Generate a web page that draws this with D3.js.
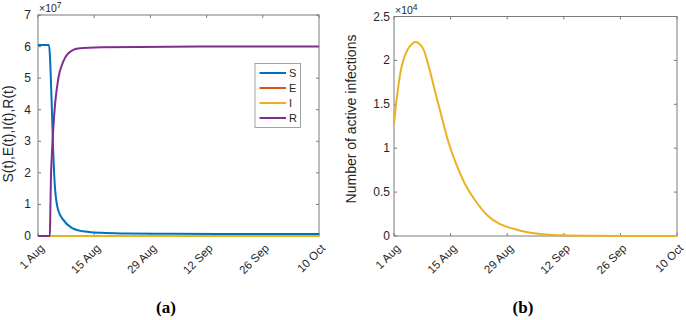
<!DOCTYPE html>
<html>
<head>
<meta charset="utf-8">
<script src="https://cdn.jsdelivr.net/npm/d3@7"></script>
<style>
  body { margin: 0; background: #fff; }
  svg { display: block; }
  text { font-family: "Liberation Sans", Arial, sans-serif; fill: #262626; }
  text.caption { font-family: "Liberation Serif", "Times New Roman", serif; font-weight: bold; fill: #000; }
</style>
</head>
<body>
<svg id="chart" width="686" height="320"></svg>
<script>
// days since 1 Aug
const tS = [0, 2.73, 3.4, 3.8, 4.2, 5.0, 6.3, 8.4, 11.7, 15.8, 22, 30, 45, 70];
const sVals = [6.05e7, 6.05e7, 4.25e7, 2.65e7, 1.58e7, 0.83e7, 0.51e7, 0.26e7, 0.14e7, 0.10e7, 0.08e7, 0.07e7, 0.065e7, 0.06e7];

const tR = [0, 2.95, 3.05, 3.23, 3.4, 3.8, 4.22, 5.04, 6.28, 7.5, 10, 15.8, 25, 40, 70];
const rVals = [0, 0, 0.6e7, 1.9e7, 2.43e7, 3.39e7, 4.13e7, 4.98e7, 5.52e7, 5.78e7, 5.94e7, 5.98e7, 5.99e7, 6.0e7, 6.0e7];

const tI = [0, 0.82, 2.05, 3.71, 5.37, 7.0, 8.66, 10.3, 12.0, 13.6, 15.3, 17.7, 20, 23, 26, 29.3, 33.4, 37.5, 42, 50, 60, 70];
const iVals = [1.28e4, 1.62e4, 1.96e4, 2.15e4, 2.21e4, 2.15e4, 1.92e4, 1.62e4, 1.32e4, 1.05e4, 0.83e4, 0.58e4, 0.41e4, 0.24e4, 0.14e4, 0.085e4, 0.04e4, 0.018e4, 0.008e4, 0.002e4, 0.0005e4, 0.0001e4];

const tE = [0, 5, 10, 20, 30, 50, 70];
const eVals = [0.6e4, 1.0e4, 0.7e4, 0.2e4, 0.05e4, 0.005e4, 0];

const tickDays = [0, 14, 28, 42, 56, 70];
const seriesNames = ['S', 'E', 'I', 'R'];
const seriesColors = ['#0072BD', '#D95319', '#EDB120', '#7E2F8E'];

const start = Date.UTC(2020, 7, 1);
const toDate = (d) => new Date(start + d * 86400000);
const fmt = d3.utcFormat('%-d %b');

const svg = d3.select('#chart');

function drawPanel(opts) {
  const { x0, x1, yTop, yBot, yMax, yTicks, yFmt, labelRight, exponent, ylabel, ylabelX, ylabelY, caption, captionX } = opts;

  const x = d3.scaleUtc().domain([toDate(0), toDate(70)]).range([x0, x1]);
  const y = d3.scaleLinear().domain([0, yMax]).range([yBot, yTop]);
  const g = svg.append('g');

  // box
  g.append('rect')
    .attr('x', x0).attr('y', yTop)
    .attr('width', x1 - x0).attr('height', yBot - yTop)
    .attr('fill', 'none').attr('stroke', '#7a7a7a').attr('stroke-width', 1);

  const tickLen = 3;
  const xt = tickDays.map(toDate);

  // x ticks inward on bottom and top
  xt.forEach((d) => {
    const px = x(d);
    g.append('line').attr('x1', px).attr('x2', px).attr('y1', yBot).attr('y2', yBot - tickLen)
      .attr('stroke', '#7a7a7a');
    g.append('line').attr('x1', px).attr('x2', px).attr('y1', yTop).attr('y2', yTop + tickLen)
      .attr('stroke', '#7a7a7a');
    g.append('text')
      .attr('transform', `translate(${px + 7},${yBot + 13}) rotate(-45)`)
      .attr('text-anchor', 'end')
      .attr('font-size', 11.5)
      .text(fmt(d));
  });

  yTicks.forEach((v) => {
    const py = y(v);
    g.append('line').attr('x1', x0).attr('x2', x0 + tickLen).attr('y1', py).attr('y2', py)
      .attr('stroke', '#7a7a7a');
    g.append('line').attr('x1', x1).attr('x2', x1 - tickLen).attr('y1', py).attr('y2', py)
      .attr('stroke', '#7a7a7a');
    g.append('text')
      .attr('x', labelRight).attr('y', py + 4)
      .attr('text-anchor', 'end')
      .attr('font-size', 12)
      .text(yFmt(v));
  });

  // exponent label
  const ex = g.append('text').attr('x', x0 + 1).attr('y', yTop - 3).attr('font-size', 10.5);
  ex.append('tspan').text('\u00d710');
  ex.append('tspan').attr('dy', -4).attr('font-size', 8.5).text(exponent);

  g.append('text')
    .attr('transform', `translate(${ylabelX},${ylabelY}) rotate(-90)`)
    .attr('text-anchor', 'middle')
    .attr('font-size', 14)
    .text(ylabel);

  g.append('text')
    .attr('class', 'caption')
    .attr('x', captionX).attr('y', 313)
    .attr('text-anchor', 'middle')
    .attr('font-size', 17)
    .text(caption);

  return { g, x, y };
}

const line = (x, y) => d3.line()
  .x((d) => x(toDate(d[0])))
  .y((d) => y(d[1]))
  .curve(d3.curveMonotoneX);

// ---- panel (a)
const a = drawPanel({
  x0: 38, x1: 319, yTop: 15, yBot: 236, yMax: 7e7,
  yTicks: d3.range(0, 8).map((v) => v * 1e7),
  yFmt: (v) => String(v / 1e7),
  labelRight: 31, exponent: '7',
  ylabel: 'S(t),E(t),I(t),R(t)', ylabelX: 13, ylabelY: 134,
  caption: '(a)', captionX: 166
});

const seriesA = [
  d3.zip(tS, sVals),
  d3.zip(tE, eVals),
  d3.zip(tI, iVals),
  d3.zip(tR, rVals)
];
svg.append('clipPath').attr('id', 'clipA')
  .append('rect').attr('x', 38).attr('y', 15).attr('width', 281).attr('height', 222);
seriesA.forEach((pts, i) => {
  a.g.append('path')
    .attr('d', line(a.x, a.y)(pts))
    .attr('fill', 'none')
    .attr('stroke', seriesColors[i])
    .attr('stroke-width', 2)
    .attr('clip-path', 'url(#clipA)');
});

// legend
const leg = a.g.append('g');
leg.append('rect').attr('x', 255).attr('y', 63.5).attr('width', 45.5).attr('height', 64)
  .attr('fill', '#fff').attr('stroke', '#8a8a8a').attr('stroke-width', 0.8);
seriesNames.forEach((name, i) => {
  const yy = 73 + i * 15;
  leg.append('line').attr('x1', 259.5).attr('x2', 286).attr('y1', yy).attr('y2', yy)
    .attr('stroke', seriesColors[i]).attr('stroke-width', 2);
  leg.append('text').attr('x', 289).attr('y', yy + 4).attr('font-size', 11).text(name);
});

// ---- panel (b)
const b = drawPanel({
  x0: 394, x1: 677, yTop: 16.5, yBot: 236, yMax: 2.5e4,
  yTicks: d3.range(0, 6).map((v) => v * 0.5e4),
  yFmt: (v) => String(v / 1e4),
  labelRight: 390, exponent: '4',
  ylabel: 'Number of active infections', ylabelX: 356, ylabelY: 119,
  caption: '(b)', captionX: 523
});

b.g.append('path')
  .attr('d', d3.line()
    .x((d) => b.x(toDate(d[0])))
    .y((d) => b.y(d[1]))
    .curve(d3.curveCatmullRom.alpha(0.5))(d3.zip(tI, iVals)))
  .attr('fill', 'none')
  .attr('stroke', seriesColors[2])
  .attr('stroke-width', 2);
</script>
</body>
</html>
